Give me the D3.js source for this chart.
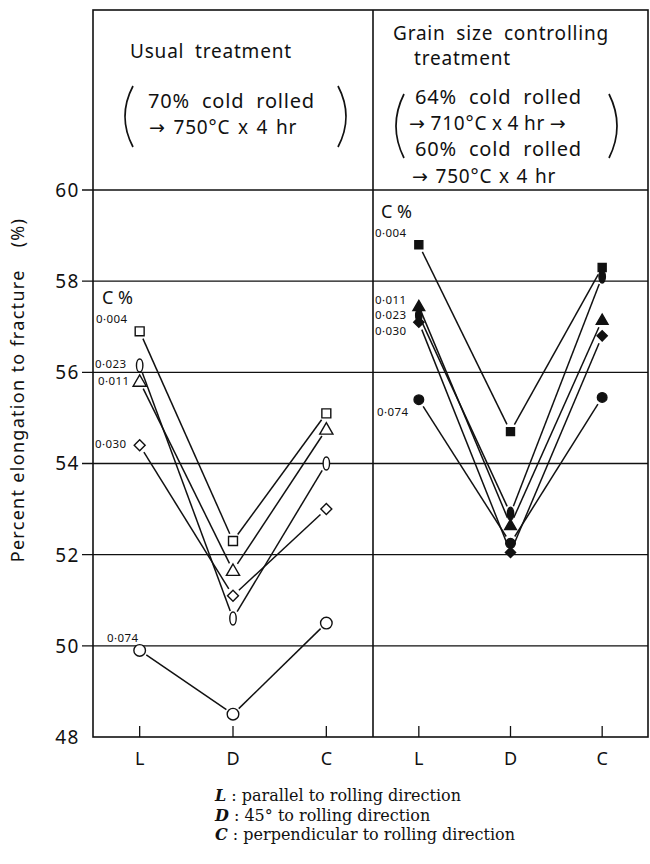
<!DOCTYPE html>
<html>
<head>
<meta charset="UTF-8">
<title>Elongation to fracture - L / D / C</title>
<script src="https://cdn.jsdelivr.net/npm/d3@7"></script>
<style>
  body { margin: 0; background: #fff; }
  svg text { font-family: "Noto Sans", "DejaVu Sans", sans-serif; fill: #111; }
  svg text.serif, svg text.serif tspan { font-family: "DejaVu Serif", "Liberation Serif", serif; }
</style>
</head>
<body>
<svg id="chart" width="650" height="864"></svg>
<script>
// ---------------------------------------------------
// data
// ---------------------------------------------------
var directions = ["L", "D", "C"];
var carbon = ["0·004", "0·011", "0·023", "0·030", "0·074"];
var markers = ["square", "triangle", "ellipse", "diamond", "circle"];

// usual treatment (open markers), order = carbon
var usualValues = [
  [56.9, 52.3, 55.1],
  [55.8, 51.65, 54.75],
  [56.15, 50.6, 54.0],
  [54.4, 51.1, 53.0],
  [49.9, 48.5, 50.5]
];
// grain size controlling treatment (filled markers)
var grainValues = [
  [58.8, 54.7, 58.3],
  [57.45, 52.65, 57.15],
  [57.25, 52.9, 58.1],
  [57.1, 52.05, 56.8],
  [55.4, 52.25, 55.45]
];
var yTicks = [48, 50, 52, 54, 56, 58, 60];

var leftHeader = ["Usual treatment", "70% cold rolled", "→ 750°C x 4 hr"];
var rightHeader = ["Grain size controlling", "treatment", "64% cold rolled",
  "→ 710°C x 4 hr →", "60% cold rolled", "→ 750°C x 4 hr"];
var legendRows = [
  ["L", " : parallel to rolling direction"],
  ["D", " : 45° to rolling direction"],
  ["C", " : perpendicular to rolling direction"]
];

// ---------------------------------------------------
// layout
// ---------------------------------------------------
var svg = d3.select("#chart");
var top0 = 10, x0 = 93, xMid = 373, x1 = 648;

var y = d3.scaleLinear().domain([48, 60]).range([737, 190]);
var xL = d3.scalePoint().domain(directions).range([x0, xMid]).padding(0.5);
var xR = d3.scalePoint().domain(directions).range([xMid, x1]).padding(0.5);

// gridlines (with small outside tick on the left)
svg.append("g").selectAll("line").data(yTicks.filter(function (d) { return d > 48; }))
  .enter().append("line")
  .attr("x1", x0 - 11).attr("x2", x1)
  .attr("y1", function (d) { return y(d); })
  .attr("y2", function (d) { return y(d); })
  .attr("stroke", "#111").attr("stroke-width", 1.3);

// frame
svg.append("rect")
  .attr("x", x0).attr("y", top0)
  .attr("width", x1 - x0).attr("height", y(48) - top0)
  .attr("fill", "none").attr("stroke", "#111").attr("stroke-width", 1.6);
svg.append("line")
  .attr("x1", xMid).attr("x2", xMid).attr("y1", top0).attr("y2", y(48))
  .attr("stroke", "#111").attr("stroke-width", 1.6);

// y labels
svg.append("g").selectAll("text").data(yTicks).enter().append("text")
  .attr("x", x0 - 13)
  .attr("y", function (d) { return y(d); })
  .attr("dy", "0.36em")
  .attr("text-anchor", "end")
  .style("font-size", "19px")
  .style("letter-spacing", "1.5px")
  .text(function (d) { return d; });

// y axis title
var yt = svg.append("text")
  .attr("transform", "translate(24," + 390 + ") rotate(-90)")
  .attr("text-anchor", "middle")
  .style("font-size", "18px")
  .style("letter-spacing", "1.3px");
yt.append("tspan").text("Percent elongation to fracture");
yt.append("tspan").attr("dx", 22).text("(%)");

// x ticks and labels for both panels
[xL, xR].forEach(function (x) {
  svg.append("g").selectAll("line").data(directions).enter().append("line")
    .attr("x1", function (d) { return x(d); })
    .attr("x2", function (d) { return x(d); })
    .attr("y1", y(48)).attr("y2", y(48) - 11)
    .attr("stroke", "#111").attr("stroke-width", 1.3);
  svg.append("g").selectAll("text").data(directions).enter().append("text")
    .attr("x", function (d) { return x(d); })
    .attr("y", 765)
    .attr("text-anchor", "middle")
    .style("font-size", "18px")
    .text(function (d) { return d; });
});

// ---------------------------------------------------
// headers
// ---------------------------------------------------
function paren(x, yA, yB, dir) {
  var p = d3.path();
  p.moveTo(x, yA);
  p.quadraticCurveTo(x - dir * 16, (yA + yB) / 2, x, yB);
  svg.append("path").attr("d", p.toString())
    .attr("fill", "none").attr("stroke", "#111").attr("stroke-width", 1.7);
}

function headerLine(txt, x, yy, size, ws) {
  svg.append("text").attr("x", x).attr("y", yy)
    .style("font-size", size + "px")
    .style("letter-spacing", "0.8px")
    .style("word-spacing", ws + "px")
    .text(txt);
}

headerLine(leftHeader[0], 130, 58, 19, 5);
headerLine(leftHeader[1], 148, 108, 20, 6);
headerLine(leftHeader[2], 149, 134, 19, 2);
paren(133, 86, 147, 1);
paren(338, 86, 147, -1);

headerLine(rightHeader[0], 393, 40, 19, 5);
headerLine(rightHeader[1], 414, 65, 19, 5);
headerLine(rightHeader[2], 415, 104, 20, 6);
headerLine(rightHeader[3], 409, 130, 19, -1);
headerLine(rightHeader[4], 415, 156, 20, 6);
headerLine(rightHeader[5], 412, 183, 19, 1);
paren(404, 94, 158, 1);
paren(609, 94, 158, -1);

// ---------------------------------------------------
// series
// ---------------------------------------------------
function drawMarker(g, kind, cx, cy, filled) {
  var fill = filled ? "#111" : "#fff";
  var m;
  if (kind === "ellipse") {
    m = g.append("ellipse").attr("cx", cx).attr("cy", cy).attr("rx", 3.2).attr("ry", 6.5);
  } else if (kind === "circle") {
    m = g.append("circle").attr("cx", cx).attr("cy", cy).attr("r", filled ? 4.8 : 5.8);
  } else if (kind === "diamond") {
    m = g.append("path").attr("d", d3.symbol().type(d3.symbolSquare).size(filled ? 52 : 60)())
      .attr("transform", "translate(" + cx + "," + cy + ") rotate(45)");
  } else if (kind === "triangle") {
    m = g.append("path").attr("d", d3.symbol().type(d3.symbolTriangle).size(filled ? 60 : 75)())
      .attr("transform", "translate(" + cx + "," + (cy + 1) + ")");
  } else {
    m = g.append("path").attr("d", d3.symbol().type(d3.symbolSquare).size(filled ? 64 : 80)())
      .attr("transform", "translate(" + cx + "," + cy + ")");
  }
  m.attr("fill", fill).attr("stroke", "#111").attr("stroke-width", 1.4);
}

function drawPanel(x, values, filled) {
  var g = svg.append("g");
  values.forEach(function (vals, i) {
    var pts = vals.map(function (v, j) { return [x(directions[j]), y(v)]; });
    for (var k = 0; k < pts.length - 1; k++) {
      var a = pts[k], b = pts[k + 1];
      var dx = b[0] - a[0], dy = b[1] - a[1];
      var len = Math.sqrt(dx * dx + dy * dy), gap = 8;
      g.append("line")
        .attr("x1", a[0] + dx / len * gap).attr("y1", a[1] + dy / len * gap)
        .attr("x2", b[0] - dx / len * gap).attr("y2", b[1] - dy / len * gap)
        .attr("stroke", "#111").attr("stroke-width", 1.5);
    }
    pts.forEach(function (p) { drawMarker(g, markers[i], p[0], p[1], filled); });
  });
}

drawPanel(xL, usualValues, false);
drawPanel(xR, grainValues, true);

// carbon labels, offset from each series' L point
var leftLabelPos = [[96, -8], [98, 4], [95, 3], [95, 3], [107, -8]];
var rightLabelPos = [[375, -8], [375, -2], [375, 4], [375, 13], [377, 16]];

function drawLabels(values, pos) {
  values.forEach(function (vals, i) {
    svg.append("text")
      .attr("x", pos[i][0])
      .attr("y", y(vals[0]) + pos[i][1])
      .style("font-size", "11.5px")
      .style("letter-spacing", "0.4px")
      .text(carbon[i]);
  });
  svg.append("text")
    .attr("x", pos[0][0] + 6)
    .attr("y", y(values[0][0]) + pos[0][1] - 19)
    .style("font-size", "18px")
    .text("C %");
}
drawLabels(usualValues, leftLabelPos);
drawLabels(grainValues, rightLabelPos);

// legend (serif, as in the caption)
legendRows.forEach(function (r, i) {
  var t = svg.append("text").attr("class", "serif")
    .attr("x", 215).attr("y", 801 + i * 19.5)
    .style("font-size", "16px");
  t.append("tspan").style("font-style", "italic").style("font-weight", "bold").text(r[0]);
  t.append("tspan").text(r[1]);
});
</script>
</body>
</html>
